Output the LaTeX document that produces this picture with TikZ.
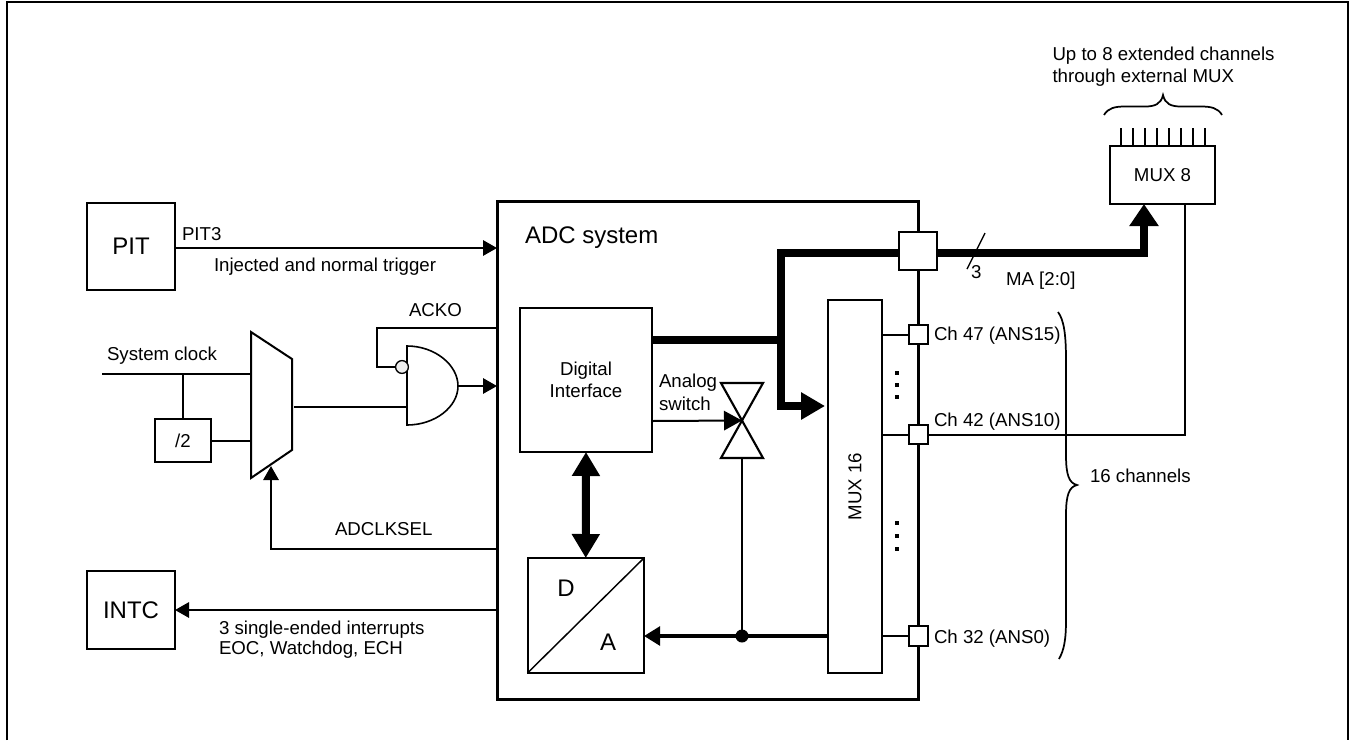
\documentclass[tikz,border=0pt]{standalone}
\usepackage{fontspec}
\setmainfont{Liberation Sans}
\usetikzlibrary{arrows.meta}
\tikzset{
  x=0.75pt,y=-0.75pt,
  every node/.style={font=\fontsize{14}{16.5}\selectfont,inner sep=0pt,outer sep=0pt},
  wh/.style 2 args={minimum width=#1*0.75pt,minimum height=#2*0.75pt},
  box/.style={draw,line width=1.5pt,fill=white},
  bigt/.style={font=\fontsize{18}{20}\selectfont},
  ln/.style={line width=1.5pt},
  thinl/.style={line width=1.1pt},
  bracel/.style={line width=1.3pt},
  fat/.style={line width=6pt},
  tip/.style={-{Triangle[length=10.5pt,width=11.5pt]}},
  swtip/.style={-{Triangle[length=13.5pt,width=14.5pt]}},
  fattip/.style={-{Triangle[length=18pt,width=19.5pt]}},
  muxtip/.style={-{Triangle[length=16.5pt,width=21pt]}},
  pad/.style={box,wh={19}{19.5}},
  lab/.style={anchor=west,text height=10pt,text depth=0pt}
}
\begin{document}
\begin{tikzpicture}
\useasboundingbox (0,0) rectangle (1349,740);
% outer frame
\draw[line width=1.5pt] (7,740) -- (7,1.5) -- (1348,1.5) -- (1348,740);
% ADC system frame
\node[draw,line width=2.25pt,wh={421}{497.5}] (adc) at (707.5,450.25) {};
\node[lab,bigt] (adct) at (525,237) {ADC system};
% PIT
\node[box,wh={88}{87},bigt] (pit) at (131,246.5) {PIT};
\coordinate (pitin) at (adc.west |- 0,248);
\draw[ln,tip] (pit.east |- pitin) -- (pitin);
\node[lab] (pit3) at (182,234) {PIT3};
\node[lab] (inj) at (214,265) {Injected and normal trigger};
% INTC
\node[box,wh={88}{78},bigt] (intc) at (131,610) {INTC};
\coordinate (intcin) at (adc.west |- 0,610);
\draw[ln,tip] (intcin) -- (intc.east |- intcin);
\node[lab] (irq1) at (219,628) {3 single-ended interrupts};
\node[lab] (irq2) at (219,648) {EOC, Watchdog, ECH};
% clock mux
\coordinate (m1) at (251,332);
\coordinate (m2) at (292,359);
\coordinate (m3) at (292,450);
\coordinate (m4) at (251,478);
\draw[ln] (m1) -- (m2) -- (m3) -- (m4) -- cycle;
\coordinate (sc) at (102,374);
\draw[ln] (sc) -- (sc -| m1);
\node[lab] (sct) at (107,354) {System clock};
\node[box,wh={56}{43}] (div) at (183,440.5) {/2};
\coordinate (scj) at (183,374);
\draw[ln] (scj) -- (div.north);
\draw[ln] (div.east) -- (div.east -| m1);
% AND gate
\coordinate (gt) at (407,346);
\coordinate (gb) at (407,425);
\draw[line width=1.2pt,fill=white] (gt) .. controls (435,346) and (458,365) .. (458,386) .. controls (458,407) and (435,425) .. (gb) -- cycle;
\coordinate (ackr) at (adc.west |- 0,328);
\draw[ln] (ackr) -- (377,328) -- (377,367) -- (396,367);
\draw[line width=1pt,fill=white!93!black] (402,367) circle (6.4);
\node[lab] (acko) at (409,310) {ACKO};
\draw[ln] (294,407) -- (407,407);
\coordinate (gout) at (458,386);
\coordinate (gin) at (adc.west |- gout);
\draw[ln,tip] (gout) -- (gin);
% ADCLKSEL
\coordinate (selr) at (adc.west |- 0,549);
\draw[ln,tip] (selr) -- (271,549) -- (271,466);
\node[lab] (sel) at (335,529) {ADCLKSEL};
% digital interface
\node[box,wh={132}{144},align=center] (di) at (586,380) {Digital\\Interface};
% DA
\node[box,wh={116.5}{115}] (da) at (585.75,615.5) {};
\draw[line width=1.1pt] (da.south west) -- (da.north east);
\node[bigt] (dl) at (566,588) {D};
\node[bigt] (al) at (608,642) {A};
% bidirectional
\draw[fat,{Triangle[length=18pt,width=20pt]}-{Triangle[length=18pt,width=20pt]}] (di.south) -- (da.north);
% MUX16
\node[box,wh={54}{373}] (mux) at (855,486.5) {};
\node[rotate=90] (muxt) at (mux.center) {MUX 16};
% switch
\coordinate (swc) at (742,420.5);
\draw[line width=1.6pt,fill=white] (721,383) -- (763,383) -- (721,458) -- (763,458) -- cycle;
\draw[ln,swtip] (di.east |- 0,421) -- (swc);
\node[lab] (as1) at (659,381) {Analog};
\node[lab] (as2) at (659,403.5) {switch};
% DA input
\coordinate (dotp) at (742,636);
\draw[line width=2.6pt,{Triangle[length=12pt,width=14pt]}-] (da.east |- dotp) -- (mux.west |- dotp);
\draw[thinl] (742,458) -- (dotp);
\fill (dotp) circle (6.5);
% ADC right-side pads
\node[pad] (p47) at (918.5,334.5) {};
\node[pad] (p42) at (918.5,434.5) {};
\node[pad] (p32) at (918.5,636) {};
\draw[ln] (mux.east |- p47) -- (p47.west);
\draw[ln] (mux.east |- p42) -- (p42.west);
\draw[ln] (mux.east |- p32) -- (p32.west);
\node[lab] (c47) at (934,334) {Ch 47 (ANS15)};
\node[lab] (c42) at (934,420) {Ch 42 (ANS10)};
\node[lab] (c32) at (934,637) {Ch 32 (ANS0)};
% dots
\foreach \yy in {373,384.5,397,523,536,549} \fill (895,\yy-2) rectangle (899,\yy+2);
% brace 16 channels
\draw[bracel] (1058,312) .. controls (1064,320) and (1066,335) .. (1066,360) -- (1066,455) .. controls (1066,475) and (1069,483) .. (1077,485) .. controls (1069,487) and (1066,495) .. (1066,515) -- (1066,620) .. controls (1066,640) and (1064,650) .. (1059,659);
\node[lab] (ch16) at (1090,476) {16 channels};
% MUX8
\node[box,wh={105}{58}] (m8) at (1162.5,175) {MUX 8};
\foreach \xx in {1121,1133,1145,1157,1169,1181,1193,1205} \draw[thinl] (\xx,128) -- (\xx,146);
\draw[ln] (p42.east) -- (1185,434.5) -- (m8.south -| 1185,0);
% main bus
\node[draw,line width=1.8pt,fill=white,wh={38}{38}] (pad) at (918,251) {};
\draw[fat] (di.east |- 0,340) -- (781,340);
\draw[fat,fattip,shorten >=2.25pt] (pad.west |- 0,252.5) -- (781,252.5) -- (781,406) -- (mux.west |- 0,406);
\draw[fat,muxtip] (pad.east |- 0,252.5) -- (1144,252.5) -- (m8.south -| 1144,0);
% slash
\coordinate (s1) at (985,233);
\coordinate (s2) at (967,269);
\draw[line width=1pt] (s1) -- (s2);
\node[lab] (three) at (971,272) {3};
\node[lab] (ma) at (1006,279) {MA [2:0]};
% brace top
\draw[bracel] (1104,115) .. controls (1108,108) and (1115,106.5) .. (1125,106.5) -- (1145,106.5) .. controls (1155,106.5) and (1161,104) .. (1163,95) .. controls (1165,104) and (1171,106.5) .. (1181,106.5) -- (1201,106.5) .. controls (1211,106.5) and (1218,108) .. (1222,115);
\node[lab] (up1) at (1052.5,54) {Up to 8 extended channels};
\node[lab] (up2) at (1052.5,76) {through external MUX};
\end{tikzpicture}
\end{document}
